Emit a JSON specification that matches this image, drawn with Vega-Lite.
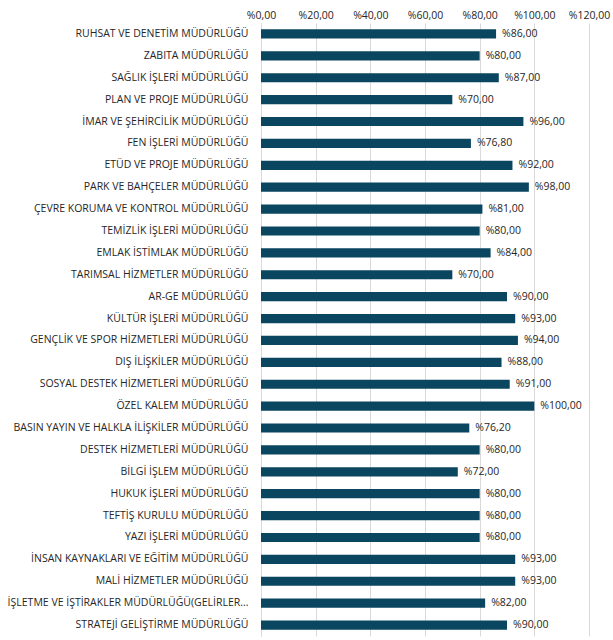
{
  "$schema": "https://vega.github.io/schema/vega-lite/v6.json",
  "autosize": "none",
  "width": 328,
  "height": 613,
  "padding": {"left": 261, "top": 23, "right": 24, "bottom": 4},
  "background": "white",
  "config": {
    "locale": {"number": {"decimal": ",", "thousands": ".", "grouping": [3], "currency": ["%", ""]}},
    "view": {"stroke": null},
    "font": "Open Sans"
  },
  "data": {"values": [
    {"birim": "RUHSAT VE DENETİM MÜDÜRLÜĞÜ", "oran": 86},
    {"birim": "ZABITA MÜDÜRLÜĞÜ", "oran": 80},
    {"birim": "SAĞLIK İŞLERİ MÜDÜRLÜĞÜ", "oran": 87},
    {"birim": "PLAN VE PROJE MÜDÜRLÜĞÜ", "oran": 70},
    {"birim": "İMAR VE ŞEHİRCİLİK MÜDÜRLÜĞÜ", "oran": 96},
    {"birim": "FEN İŞLERİ MÜDÜRLÜĞÜ", "oran": 76.8},
    {"birim": "ETÜD VE PROJE MÜDÜRLÜĞÜ", "oran": 92},
    {"birim": "PARK VE BAHÇELER MÜDÜRLÜĞÜ", "oran": 98},
    {"birim": "ÇEVRE KORUMA VE KONTROL MÜDÜRLÜĞÜ", "oran": 81},
    {"birim": "TEMİZLİK İŞLERİ MÜDÜRLÜĞÜ", "oran": 80},
    {"birim": "EMLAK İSTİMLAK MÜDÜRLÜĞÜ", "oran": 84},
    {"birim": "TARIMSAL HİZMETLER MÜDÜRLÜĞÜ", "oran": 70},
    {"birim": "AR-GE MÜDÜRLÜĞÜ", "oran": 90},
    {"birim": "KÜLTÜR İŞLERİ MÜDÜRLÜĞÜ", "oran": 93},
    {"birim": "GENÇLİK VE SPOR HİZMETLERİ MÜDÜRLÜĞÜ", "oran": 94},
    {"birim": "DIŞ İLİŞKİLER MÜDÜRLÜĞÜ", "oran": 88},
    {"birim": "SOSYAL DESTEK HİZMETLERİ MÜDÜRLÜĞÜ", "oran": 91},
    {"birim": "ÖZEL KALEM MÜDÜRLÜĞÜ", "oran": 100},
    {"birim": "BASIN YAYIN VE HALKLA İLİŞKİLER MÜDÜRLÜĞÜ", "oran": 76.2},
    {"birim": "DESTEK HİZMETLERİ MÜDÜRLÜĞÜ", "oran": 80},
    {"birim": "BİLGİ İŞLEM MÜDÜRLÜĞÜ", "oran": 72},
    {"birim": "HUKUK İŞLERİ MÜDÜRLÜĞÜ", "oran": 80},
    {"birim": "TEFTİŞ KURULU MÜDÜRLÜĞÜ", "oran": 80},
    {"birim": "YAZI İŞLERİ MÜDÜRLÜĞÜ", "oran": 80},
    {"birim": "İNSAN KAYNAKLARI VE EĞİTİM MÜDÜRLÜĞÜ", "oran": 93},
    {"birim": "MALİ HİZMETLER MÜDÜRLÜĞÜ", "oran": 93},
    {"birim": "İŞLETME VE İŞTİRAKLER MÜDÜRLÜĞÜ(GELİRLER...", "oran": 82},
    {"birim": "STRATEJİ GELİŞTİRME MÜDÜRLÜĞÜ", "oran": 90}
  ]},
  "encoding": {
    "y": {
      "field": "birim", "type": "nominal", "sort": null, "title": null,
      "scale": {"paddingInner": 0.58, "paddingOuter": 0.29},
      "axis": {"ticks": false, "domain": true, "domainColor": "#d9d9d9", "labelPadding": 13, "labelLimit": 300, "labelFontSize": 10.5, "labelColor": "#262626", "labelFont": "Open Sans"}
    },
    "x": {
      "field": "oran", "type": "quantitative", "title": null,
      "scale": {"domain": [0, 120], "nice": false},
      "axis": {"orient": "top", "values": [0, 20, 40, 60, 80, 100, 120], "format": "$.2f", "ticks": false, "domain": false, "grid": true, "gridColor": "#d9d9d9", "labelPadding": 3, "labelFontSize": 10.5, "labelColor": "#262626", "labelFont": "Open Sans", "labelFlush": false}
    }
  },
  "layer": [
    {"mark": {"type": "bar", "color": "#0b4660"}},
    {"mark": {"type": "text", "align": "left", "baseline": "middle", "dx": 6, "fontSize": 10.5, "color": "#262626", "font": "Open Sans"},
     "encoding": {"text": {"field": "oran", "type": "quantitative", "format": "$.2f"}}}
  ]
}
